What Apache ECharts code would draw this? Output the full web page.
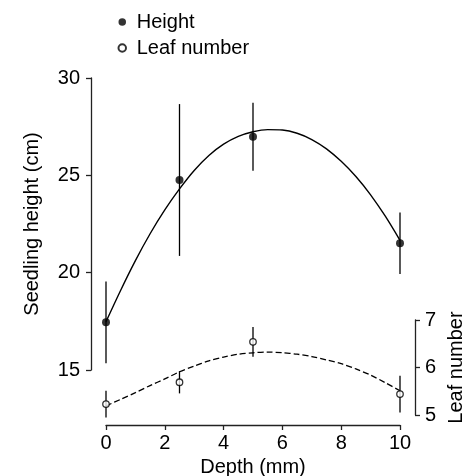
<!DOCTYPE html>
<html>
<head>
<meta charset="utf-8">
<script src="https://cdn.jsdelivr.net/npm/echarts@6/dist/echarts.min.js"></script>
<style>html,body{margin:0;padding:0;background:#fff}#c{width:467px;height:476px}</style>
</head>
<body>
<div id="c"></div>
<script>
// ---- data ----
var depths = [0, 2.5, 5, 10];
var heightMean = [17.45, 24.76, 26.98, 21.51];
var heightErr = [2.1, 3.9, 1.75, 1.58];
var leafMean = [5.23, 5.69, 6.54, 5.44];
var leafErr = [0.28, 0.235, 0.315, 0.385];
var fitDepths = [0, 0.5, 1, 1.5, 2, 2.5, 3, 3.5, 4, 4.5, 5, 5.5, 6, 6.5, 7, 7.5, 8, 8.5, 9, 9.5, 10];
var heightFit = [17.48, 19.1, 20.62, 22.0, 23.22, 24.3, 25.25, 26.02, 26.6, 27.0, 27.24,
                 27.35, 27.33, 27.16, 26.84, 26.36, 25.72, 24.94, 24.0, 22.9, 21.66];
var leafFit = [5.19, 5.33, 5.47, 5.62, 5.76, 5.91, 6.03, 6.14, 6.22, 6.28, 6.31,
               6.325, 6.31, 6.28, 6.23, 6.16, 6.08, 5.97, 5.84, 5.68, 5.51];
var xTicks = [0, 2, 4, 6, 8, 10];

var FONT = 'Liberation Sans, Arial, Helvetica, sans-serif';
var AX = '#222';

function pairs(xs, ys) { return xs.map(function (x, i) { return [x, ys[i]]; }); }
function errData(xs, m, e) { return xs.map(function (x, i) { return [x, m[i] - e[i], m[i] + e[i]]; }); }

function errBar(params, api) {
  var p1 = api.coord([api.value(0), api.value(1)]);
  var p2 = api.coord([api.value(0), api.value(2)]);
  return {
    type: 'line',
    shape: { x1: p1[0], y1: p1[1], x2: p2[0], y2: p2[1] },
    style: { stroke: '#000', lineWidth: 1.3 }
  };
}

var chart = echarts.init(document.getElementById('c'), null, { renderer: 'canvas' });
chart.setOption({
  animation: false,
  backgroundColor: '#fff',
  textStyle: { fontFamily: FONT, color: '#000' },
  legend: {
    orient: 'vertical', left: 112.5, top: 7,
    itemWidth: 19, itemHeight: 7.5, itemGap: 6,
    textStyle: { fontFamily: FONT, fontSize: 20, color: '#000' },
    data: ['Height', 'Leaf number']
  },
  grid: [
    { left: 106, right: 67, top: 78, bottom: 51, outerBoundsMode: 'none', containLabel: false },
    { left: 91, width: 200, top: 78, bottom: 106, outerBoundsMode: 'none', containLabel: false },
    { left: 215, right: 52, top: 320, bottom: 61, outerBoundsMode: 'none', containLabel: false }
  ],
  xAxis: [
    {
      gridIndex: 0, type: 'value', min: 0, max: 10, interval: 2,
      name: 'Depth (mm)', nameLocation: 'middle', nameGap: 30,
      nameTextStyle: { fontFamily: FONT, fontSize: 20, color: '#000' },
      axisLine: { show: true, onZero: false, lineStyle: { color: AX, width: 1.3 } },
      axisTick: { show: true, length: 5, lineStyle: { color: AX, width: 1.3 } },
      axisLabel: { fontFamily: FONT, fontSize: 20, color: '#000', margin: 8,
        formatter: function (v) { return xTicks.indexOf(v) >= 0 ? String(v) : ''; } },
      splitLine: { show: false }
    },
    { gridIndex: 1, type: 'value', min: 0, max: 1, show: false },
    { gridIndex: 2, type: 'value', min: 0, max: 1, show: false }
  ],
  yAxis: [
    { gridIndex: 0, type: 'value', min: 12.174, max: 30, show: false },
    { gridIndex: 0, type: 'value', min: 4.7895, max: 12.0947, show: false, position: 'right' },
    {
      gridIndex: 1, type: 'value', min: 15, max: 30, interval: 5, position: 'left',
      name: 'Seedling height (cm)', nameLocation: 'middle', nameGap: 49, nameRotate: 90,
      nameTextStyle: { fontFamily: FONT, fontSize: 20, color: '#000' },
      axisLine: { show: true, onZero: false, lineStyle: { color: AX, width: 1.3 } },
      axisTick: { show: true, length: 5, lineStyle: { color: AX, width: 1.3 } },
      axisLabel: { fontFamily: FONT, fontSize: 20, color: '#000', margin: 11 },
      splitLine: { show: false }
    },
    {
      gridIndex: 2, type: 'value', min: 5, max: 7, interval: 1, position: 'right',
      name: 'Leaf number', nameLocation: 'middle', nameGap: 31, nameRotate: 90,
      nameTextStyle: { fontFamily: FONT, fontSize: 20, color: '#000' },
      axisLine: { show: true, onZero: false, lineStyle: { color: AX, width: 1.3 } },
      axisTick: { show: true, length: 5, lineStyle: { color: AX, width: 1.3 } },
      axisLabel: { fontFamily: FONT, fontSize: 20, color: '#000', margin: 10 },
      splitLine: { show: false }
    }
  ],
  series: [
    { type: 'custom', xAxisIndex: 0, yAxisIndex: 0, renderItem: errBar,
      data: errData(depths, heightMean, heightErr), z: 2, silent: true },
    { type: 'line', xAxisIndex: 0, yAxisIndex: 0, smooth: 0.3, showSymbol: false, symbol: 'none',
      lineStyle: { color: '#000', width: 1.4 }, data: pairs(fitDepths, heightFit), z: 3 },
    { name: 'Height', type: 'scatter', xAxisIndex: 0, yAxisIndex: 0, symbol: 'circle', symbolSize: 8,
      itemStyle: { color: '#000' }, data: pairs(depths, heightMean), z: 5 },
    { type: 'custom', xAxisIndex: 0, yAxisIndex: 1, renderItem: errBar,
      data: errData(depths, leafMean, leafErr), z: 2, silent: true },
    { type: 'line', xAxisIndex: 0, yAxisIndex: 1, smooth: 0.3, showSymbol: false, symbol: 'none',
      lineStyle: { color: '#000', width: 1.3, type: [6, 3] }, data: pairs(fitDepths, leafFit), z: 3 },
    { name: 'Leaf number', type: 'scatter', xAxisIndex: 0, yAxisIndex: 1, symbol: 'circle', symbolSize: 6.5,
      itemStyle: { color: '#fff', borderColor: '#000', borderWidth: 1.3 }, data: pairs(depths, leafMean), z: 5 }
  ]
});
</script>
</body>
</html>
